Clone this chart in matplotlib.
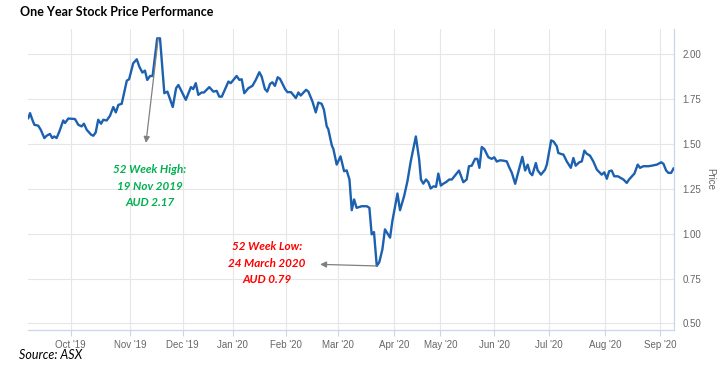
import matplotlib
matplotlib.use("Agg")
import matplotlib.pyplot as plt

# trading-day position (ordinal axis, weekends/holidays removed) and close price
day = [0.1, 0.8, 1.7, 2.5, 4.0, 5.0, 6.4, 7.3, 8.6, 9.5, 10.3, 11.2, 12.3, 13.8, 14.5,
       15.8, 18.4, 19.7, 21.0, 21.9, 23.0, 24.7, 25.6, 26.5, 27.5, 28.6, 29.5, 30.8,
       32.1, 33.4, 34.4, 35.4, 36.7, 38.7, 39.6, 41.2, 42.6, 43.6, 44.8, 45.8, 46.7,
       47.8, 48.8, 50.6, 51.7, 53.4, 54.6, 56.7, 58.0, 58.9, 61.8, 63.8, 64.7, 65.7,
       66.7, 68.0, 68.9, 71.0, 72.6, 73.9, 74.9, 75.9, 78.5, 79.4, 81.7, 82.8, 83.7,
       84.7, 86.3, 87.9, 89.2, 90.6, 91.5, 92.8, 93.7, 94.8, 95.7, 96.7, 97.8, 98.7,
       100.7, 101.6, 103.0, 104.9, 105.9, 106.8, 108.9, 109.8, 111.4, 112.7, 113.7,
       115.0, 115.9, 117.0, 117.6, 119.0, 119.6, 120.9, 122.4, 123.8, 124.8, 125.9,
       126.8, 127.7, 128.7, 130.7, 132.7, 133.7, 134.6, 135.5, 136.6, 137.6, 138.8,
       139.8, 141.8, 142.7, 144.7, 145.7, 147.3, 148.6, 149.9, 151.9, 153.2, 153.9,
       154.8, 155.9, 156.8, 157.7, 158.8, 159.8, 160.7, 161.7, 162.7, 163.7, 165.0,
       166.0, 168.8, 170.5, 171.8, 172.7, 173.8, 175.1, 176.0, 176.8, 177.7, 178.7,
       180.3, 181.6, 182.6, 183.6, 184.9, 186.2, 187.5, 188.4, 189.5, 190.8, 192.0,
       193.6, 194.7, 195.7, 196.6, 197.5, 198.9, 199.6, 200.9, 202.5, 203.2, 204.9,
       205.8, 207.1, 207.7, 208.8, 209.7, 211.0, 212.6, 213.6, 214.5, 215.9, 216.9,
       217.9, 218.8, 220.1, 221.4, 222.8, 224.7, 225.7, 226.7, 227.6, 228.6, 229.6,
       231.0, 233.2, 234.5, 235.4, 237.5, 238.8, 239.7, 241.0, 243.0, 244.3, 246.3,
       248.0, 248.9, 249.9, 250.8, 251.9, 252.8]
price = [1.644, 1.672, 1.635, 1.607, 1.602, 1.579, 1.533, 1.546, 1.556, 1.533, 1.542,
         1.533, 1.570, 1.631, 1.617, 1.642, 1.639, 1.607, 1.598, 1.613, 1.579, 1.552,
         1.546, 1.564, 1.635, 1.613, 1.635, 1.631, 1.657, 1.706, 1.676, 1.718, 1.724,
         1.853, 1.861, 1.950, 1.972, 1.931, 1.898, 1.909, 1.857, 1.879, 1.879, 2.089,
         2.089, 1.783, 1.792, 1.706, 1.811, 1.829, 1.746, 1.817, 1.806, 1.839, 1.774,
         1.787, 1.787, 1.817, 1.792, 1.796, 1.764, 1.764, 1.848, 1.839, 1.879, 1.857,
         1.861, 1.783, 1.811, 1.824, 1.857, 1.900, 1.876, 1.806, 1.792, 1.835, 1.844,
         1.824, 1.872, 1.863, 1.806, 1.789, 1.789, 1.756, 1.787, 1.770, 1.802, 1.792,
         1.737, 1.676, 1.731, 1.724, 1.691, 1.598, 1.583, 1.491, 1.472, 1.385, 1.431,
         1.348, 1.353, 1.302, 1.131, 1.191, 1.144, 1.153, 1.153, 1.144, 0.996, 1.009,
         0.820, 0.842, 0.913, 1.024, 0.978, 1.070, 1.224, 1.131, 1.209, 1.292, 1.403,
         1.542, 1.413, 1.302, 1.279, 1.302, 1.287, 1.252, 1.264, 1.261, 1.335, 1.268,
         1.279, 1.287, 1.302, 1.302, 1.352, 1.287, 1.302, 1.376, 1.379, 1.417, 1.417,
         1.367, 1.483, 1.472, 1.426, 1.417, 1.426, 1.402, 1.409, 1.407, 1.403, 1.372,
         1.339, 1.278, 1.342, 1.428, 1.352, 1.385, 1.339, 1.326, 1.394, 1.353, 1.329,
         1.357, 1.385, 1.520, 1.514, 1.487, 1.450, 1.444, 1.441, 1.403, 1.367, 1.422,
         1.379, 1.398, 1.403, 1.463, 1.446, 1.435, 1.403, 1.357, 1.329, 1.342, 1.306,
         1.348, 1.352, 1.320, 1.320, 1.302, 1.283, 1.302, 1.335, 1.385, 1.367, 1.376,
         1.376, 1.379, 1.385, 1.398, 1.389, 1.353, 1.339, 1.339, 1.363]

month_pos = [16.7, 40.0, 60.6, 80.2, 100.9, 121.3, 143.5, 161.5, 182.5, 204.0, 226.1, 247.7]
month_labels = ["Oct '19", "Nov '19", "Dec '19", "Jan '20", "Feb '20", "Mar '20",
                "Apr '20", "May '20", "Jun '20", "Jul '20", "Aug '20", "Sep '20"]
price_ticks = [0.50, 0.75, 1.00, 1.25, 1.50, 1.75, 2.00]

# callouts: (point on line, arrow tip, text centre)
high_point, high_tip, high_text = (51.0, 2.089), (46.2, 1.506), (47.8, 1.264)
low_point, low_tip, low_text = (136.7, 0.820), (114.4, 0.829), (93.5, 0.835)

fig = plt.figure(figsize=(7.18, 3.67), dpi=100)
ax = fig.add_axes([0.039, 0.1008, 0.8997, 0.8202])

ax.plot(day, price, color='#1c60b0', linewidth=1.7, solid_joinstyle='round', zorder=3)

ax.set_xlim(0, 253)
ax.set_ylim(0.463, 2.141)
ax.set_xticks(month_pos)
ax.set_xticklabels(month_labels)
ax.set_yticks(price_ticks)
ax.set_yticklabels([f"{v:.2f}" for v in price_ticks])

ax.grid(True, color='#e6e6e6', linewidth=0.8, zorder=0)
for s in ['top', 'left']:
    ax.spines[s].set_visible(False)
for s in ['bottom', 'right']:
    ax.spines[s].set_color('#ccd6eb')
    ax.spines[s].set_linewidth(0.9)

ax.yaxis.tick_right()
ax.yaxis.set_label_position('right')
ax.tick_params(axis='y', length=0, pad=6, labelsize=7, labelcolor='#666666')
ax.tick_params(axis='x', length=4, width=0.8, color='#ccd6eb', pad=3,
               labelsize=7, labelcolor='#666666')
for lab in ax.get_xticklabels() + ax.get_yticklabels():
    lab.set_family('Liberation Sans')
ax.set_ylabel('Price', rotation=270, color='#666666', fontsize=7,
              family='Liberation Sans', labelpad=10)

ann_font = dict(family='Lato', fontsize=8.4, fontweight='bold', style='italic',
                ha='center', va='center', linespacing=1.6)
arrow = dict(arrowstyle='-|>', color='#808080', lw=0.9, mutation_scale=9,
             shrinkA=0, shrinkB=0)
ax.annotate("", xy=high_tip, xytext=high_point, arrowprops=arrow, zorder=4)
ax.annotate("", xy=low_tip, xytext=low_point, arrowprops=arrow, zorder=4)
ax.text(*high_text, "52 Week High:\n19 Nov 2019\nAUD 2.17", color='#00b050', **ann_font)
ax.text(*low_text, "52 Week Low:\n24 March 2020\nAUD 0.79", color='#ff0000', **ann_font)

fig.text(0.028, 0.967, "One Year Stock Price Performance", family='Lato',
         fontweight='bold', fontsize=9, ha='left', va='center', color='#000000')
fig.text(0.026, 0.033, "Source: ASX", family='Lato', style='italic',
         fontsize=9, ha='left', va='center', color='#000000')

fig.savefig('out.png', dpi=100)
